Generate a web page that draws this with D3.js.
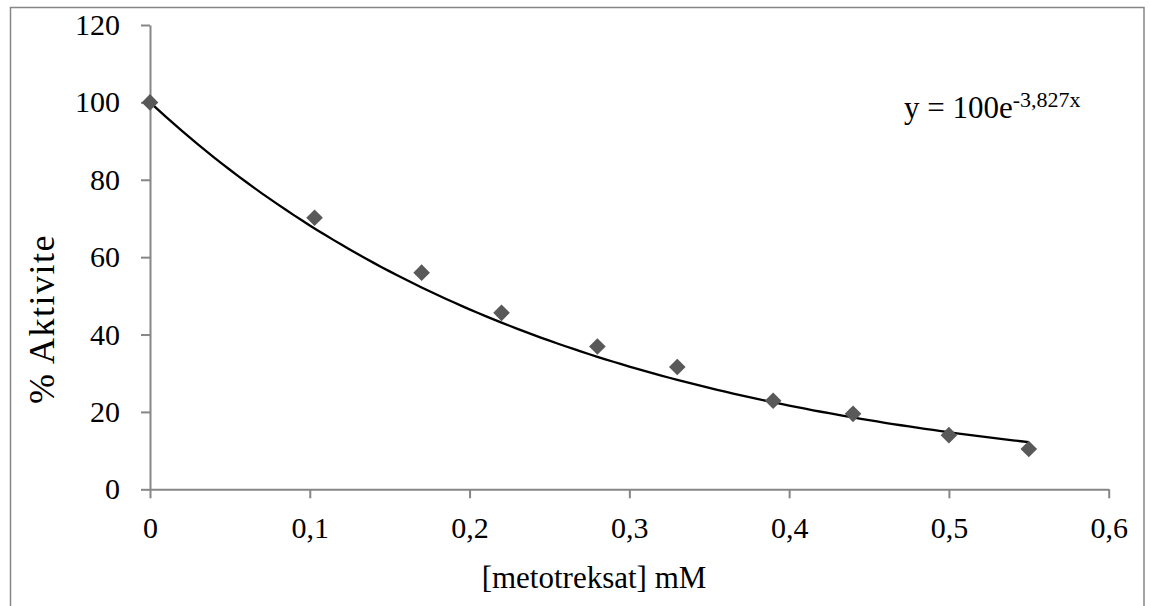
<!DOCTYPE html>
<html>
<head>
<meta charset="utf-8">
<script src="https://cdn.jsdelivr.net/npm/d3@7"></script>
<style>
  html, body { margin: 0; padding: 0; background: #fff; }
  svg { display: block; }
  text { font-family: "Liberation Serif", "Times New Roman", serif; fill: #000; }
</style>
</head>
<body>
<svg id="chart" width="1150" height="606"></svg>
<script>
// Methotrexate concentration (mM) and remaining enzyme activity (%)
const concentration = [0, 0.103, 0.17, 0.22, 0.28, 0.33, 0.39, 0.44, 0.5, 0.55];
const activity = [100, 70.2, 56.0, 45.6, 36.9, 31.6, 22.9, 19.5, 14.0, 10.4];

// Exponential fit: y = A * e^(k x)
const fitA = 100;
const fitK = -3.827;

const xTicks = [0, 0.1, 0.2, 0.3, 0.4, 0.5, 0.6];
const yTicks = [0, 20, 40, 60, 80, 100, 120];

const svg = d3.select("#chart");

const x = d3.scaleLinear().domain([0, 0.6]).range([150, 1108.7]);
const y = d3.scaleLinear().domain([0, 120]).range([489.3, 25]);

const axisColor = "#868686";

// outer frame
svg.append("rect")
  .attr("x", 10.5).attr("y", 7.5)
  .attr("width", 1133.5).attr("height", 620)
  .attr("fill", "none").attr("stroke", axisColor).attr("stroke-width", 1.5);

const fmt = d => d3.format(".1~f")(d).replace(".", ",");

// x axis
const xAxis = svg.append("g")
  .attr("transform", `translate(0,${y(0)})`)
  .call(d3.axisBottom(x).tickValues(xTicks).tickFormat(d => d === 0 ? "0" : fmt(d)).tickSize(9).tickPadding(18).tickSizeOuter(0));
xAxis.select(".domain").attr("stroke", axisColor).attr("stroke-width", 2);
xAxis.selectAll(".tick line").attr("stroke", axisColor).attr("stroke-width", 2);
xAxis.selectAll(".tick text").attr("font-size", "30px").attr("fill", "#000");

// y axis
const yAxis = svg.append("g")
  .attr("transform", `translate(${x(0)},0)`)
  .call(d3.axisLeft(y).tickValues(yTicks).tickFormat(d3.format("d")).tickSize(9).tickPadding(21).tickSizeOuter(0));
yAxis.select(".domain").attr("stroke", axisColor).attr("stroke-width", 2);
yAxis.selectAll(".tick line").attr("stroke", axisColor).attr("stroke-width", 2);
yAxis.selectAll(".tick text").attr("font-size", "30px").attr("fill", "#000");

// fitted trend line
const fitXs = d3.range(0, 0.55 + 1e-9, 0.005);
const line = d3.line().x(d => x(d)).y(d => y(fitA * Math.exp(fitK * d)));
svg.append("path")
  .datum(fitXs)
  .attr("d", line)
  .attr("fill", "none")
  .attr("stroke", "#000")
  .attr("stroke-width", 2.3);

// data markers (diamonds)
const diamond = "M0,-8.3L8.3,0L0,8.3L-8.3,0Z";
svg.append("g").selectAll("path")
  .data(concentration.map((c, i) => [c, activity[i]]))
  .join("path")
  .attr("d", diamond)
  .attr("transform", d => `translate(${x(d[0])},${y(d[1])})`)
  .attr("fill", "#595959");

// axis titles
svg.append("text")
  .attr("x", 594).attr("y", 588)
  .attr("text-anchor", "middle")
  .attr("font-size", "31px")
  .text("[metotreksat] mM");

svg.append("text")
  .attr("transform", "translate(54,319) rotate(-90)")
  .attr("text-anchor", "middle")
  .attr("font-size", "36px")
  .attr("letter-spacing", "1.5px")
  .text("% Aktivite");

// fit equation
const eq = svg.append("text")
  .attr("x", 904).attr("y", 118)
  .attr("font-size", "31px");
eq.append("tspan").text("y = 100e");
eq.append("tspan").attr("font-size", "22px").attr("dy", "-11").text("-3,827x");
</script>
</body>
</html>
